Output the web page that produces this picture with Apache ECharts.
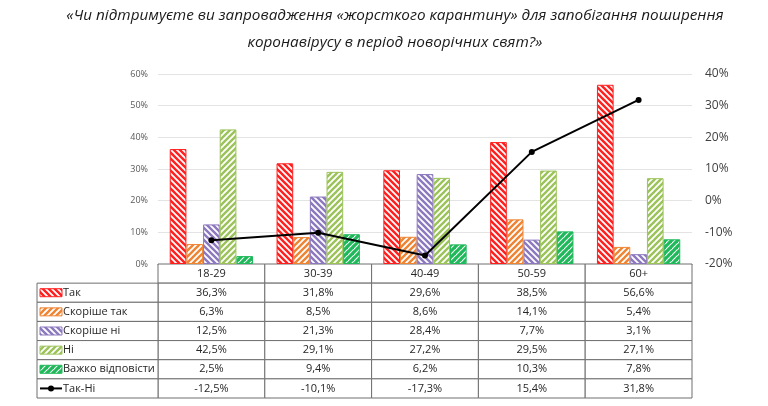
<!DOCTYPE html>
<html>
<head>
<meta charset="utf-8">
<script src="https://cdn.jsdelivr.net/npm/echarts@6/dist/echarts.min.js"></script>
<style>
html, body { margin: 0; padding: 0; background: #fff; }
#chart { width: 768px; height: 406px; }
</style>
</head>
<body>
<div id="chart"></div>
<script>
// дані з діаграми
var categories = ['18-29', '30-39', '40-49', '50-59', '60+'];
var seriesNames = ['Так', 'Скоріше так', 'Скоріше ні', 'Ні', 'Важко відповісти'];
var tak = [36.3, 31.8, 29.6, 38.5, 56.6];
var skorisheTak = [6.3, 8.5, 8.6, 14.1, 5.4];
var skorisheNi = [12.5, 21.3, 28.4, 7.7, 3.1];
var ni = [42.5, 29.1, 27.2, 29.5, 27.1];
var vazhko = [2.5, 9.4, 6.2, 10.3, 7.8];
var lineName = 'Так-Ні';
var takMinusNi = [-12.5, -10.1, -17.3, 15.4, 31.8];
var leftTicks = [0, 60, 10];      // min, max, interval
var rightTicks = [-20, 40, 10];

var barData = [tak, skorisheTak, skorisheNi, ni, vazhko];
var colors = ['#ff1f1f', '#ef8433', '#8c78be', '#9cc35a', '#1fb85a'];
var hatchDir = ['\\', '/', '\\', '/', '/'];
var hatchWidth = [2.4, 2.4, 2.4, 2.4, 3.2];

// штрихування як canvas-патерн
function makeHatch(color, dir, lw) {
	var s = 6;
	var c = document.createElement('canvas');
	c.width = s; c.height = s;
	var ctx = c.getContext('2d');
	ctx.fillStyle = '#fff';
	ctx.fillRect(0, 0, s, s);
	ctx.strokeStyle = color;
	ctx.lineWidth = lw;
	ctx.lineCap = 'square';
	for (var i = -1; i <= 1; i++) {
		ctx.beginPath();
		if (dir === '\\') {
			ctx.moveTo(i * s, 0); ctx.lineTo(i * s + s, s);
		} else {
			ctx.moveTo(i * s, s); ctx.lineTo(i * s + s, 0);
		}
		ctx.stroke();
	}
	return { image: c, repeat: 'repeat' };
}
var patterns = colors.map(function (col, i) { return makeHatch(col, hatchDir[i], hatchWidth[i]); });

function fmt(v) { return v.toFixed(1).replace('.', ',') + '%'; }

// рядки таблиці: заголовок + 5 серій + лінія
var tableRows = ['header'].concat(seriesNames).concat([lineName]);
var tableValues = [null].concat(barData).concat([takMinusNi]);

var FONT = '"Open Sans", "Noto Sans", sans-serif';
var LEGEND_W = 121;

var myChart = echarts.init(document.getElementById('chart'), null, { renderer: 'canvas' });

var series = barData.map(function (d, i) {
	return {
		name: seriesNames[i],
		type: 'bar',
		xAxisIndex: 0,
		yAxisIndex: 0,
		data: d,
		barGap: '0%',
		barCategoryGap: '22%',
		itemStyle: { color: patterns[i], borderColor: colors[i], borderWidth: 1 },
		animation: false
	};
});
series.push({
	name: lineName,
	type: 'line',
	xAxisIndex: 0,
	yAxisIndex: 1,
	data: takMinusNi,
	symbol: 'circle',
	symbolSize: 6,
	lineStyle: { color: '#000', width: 2 },
	itemStyle: { color: '#000' },
	z: 5,
	animation: false
});

// таблиця даних під графіком (друга сітка: xAxis 1, yAxis 2)
series.push({
	type: 'custom',
	coordinateSystem: 'cartesian2d',
	xAxisIndex: 1,
	yAxisIndex: 2,
	data: tableRows.map(function (r, i) { return [0, i]; }),
	animation: false,
	silent: true,
	renderItem: function (params, api) {
		var row = api.value(1);
		var cs = params.coordSys;
		var cw = api.coord([1, 0])[0] - api.coord([0, 0])[0];
		var rh = api.coord([0, 1])[1] - api.coord([0, 0])[1];
		var children = [];
		var yc = api.coord([0, row])[1];
		var top = yc - rh / 2;
		for (var c = 0; c < categories.length; c++) {
			var xc = api.coord([c, row])[0];
			children.push({
				type: 'rect',
				shape: { x: xc - cw / 2, y: top, width: cw, height: rh },
				style: { fill: '#fff', stroke: '#6f6f6f', lineWidth: 1 }
			});
			var txt = row === 0 ? categories[c] : fmt(tableValues[row][c]);
			children.push({
				type: 'text',
				style: {
					text: txt, x: xc, y: yc, align: 'center', verticalAlign: 'middle',
					font: '11px ' + FONT, fill: '#262626'
				}
			});
		}
		if (row > 0) {
			var lx = cs.x - LEGEND_W;
			children.push({
				type: 'rect',
				shape: { x: lx, y: top, width: LEGEND_W, height: rh },
				style: { fill: '#fff', stroke: '#6f6f6f', lineWidth: 1 }
			});
			var si = row - 1;
			if (si < seriesNames.length) {
				children.push({
					type: 'rect',
					shape: { x: lx + 3, y: yc - 4, width: 22, height: 8 },
					style: { fill: patterns[si], stroke: colors[si], lineWidth: 1 }
				});
			} else {
				children.push({
					type: 'line',
					shape: { x1: lx + 3, y1: yc, x2: lx + 25, y2: yc },
					style: { stroke: '#000', lineWidth: 2 }
				});
				children.push({
					type: 'circle',
					shape: { cx: lx + 14, cy: yc, r: 3 },
					style: { fill: '#000' }
				});
			}
			children.push({
				type: 'text',
				style: {
					text: tableRows[row], x: lx + 26, y: yc, align: 'left', verticalAlign: 'middle',
					font: '11px ' + FONT, fill: '#262626'
				}
			});
		}
		return { type: 'group', children: children };
	}
});

var option = {
	backgroundColor: '#fff',
	animation: false,
	title: {
		text: '«Чи підтримуєте ви запровадження «жорсткого карантину» для запобігання поширення\nкоронавірусу в період новорічних свят?»',
		left: 390,
		top: -3,
		textAlign: 'center',
		textStyle: {
			fontFamily: FONT,
			fontSize: 15.3,
			fontStyle: 'italic',
			fontWeight: 'normal',
			color: '#1a1a1a',
			lineHeight: 27
		}
	},
	grid: [
		{ left: 158, right: 76, top: 74, height: 190 },
		{ left: 158, right: 76, top: 264, height: 134 }
	],
	xAxis: [
		{
			type: 'category',
			gridIndex: 0,
			data: categories,
			axisLine: { lineStyle: { color: '#808080', width: 1 } },
			axisTick: { show: false },
			axisLabel: { show: false }
		},
		{
			type: 'category',
			gridIndex: 1,
			data: categories,
			show: false
		}
	],
	yAxis: [
		{
			type: 'value',
			gridIndex: 0,
			min: leftTicks[0], max: leftTicks[1], interval: leftTicks[2],
			axisLine: { show: false },
			axisTick: { show: false },
			axisLabel: { formatter: '{value}%', fontSize: 9, color: '#595959', fontFamily: FONT, margin: 10 },
			splitLine: { lineStyle: { color: '#e3e3e3' } }
		},
		{
			type: 'value',
			gridIndex: 0,
			position: 'right',
			min: rightTicks[0], max: rightTicks[1], interval: rightTicks[2],
			axisLine: { show: false },
			axisTick: { show: false },
			axisLabel: { formatter: '{value}%', fontSize: 12, color: '#404040', fontFamily: FONT, margin: 13 },
			splitLine: { show: false }
		},
		{
			type: 'category',
			gridIndex: 1,
			data: tableRows,
			inverse: true,
			show: false
		}
	],
	series: series
};

myChart.setOption(option);
</script>
</body>
</html>
